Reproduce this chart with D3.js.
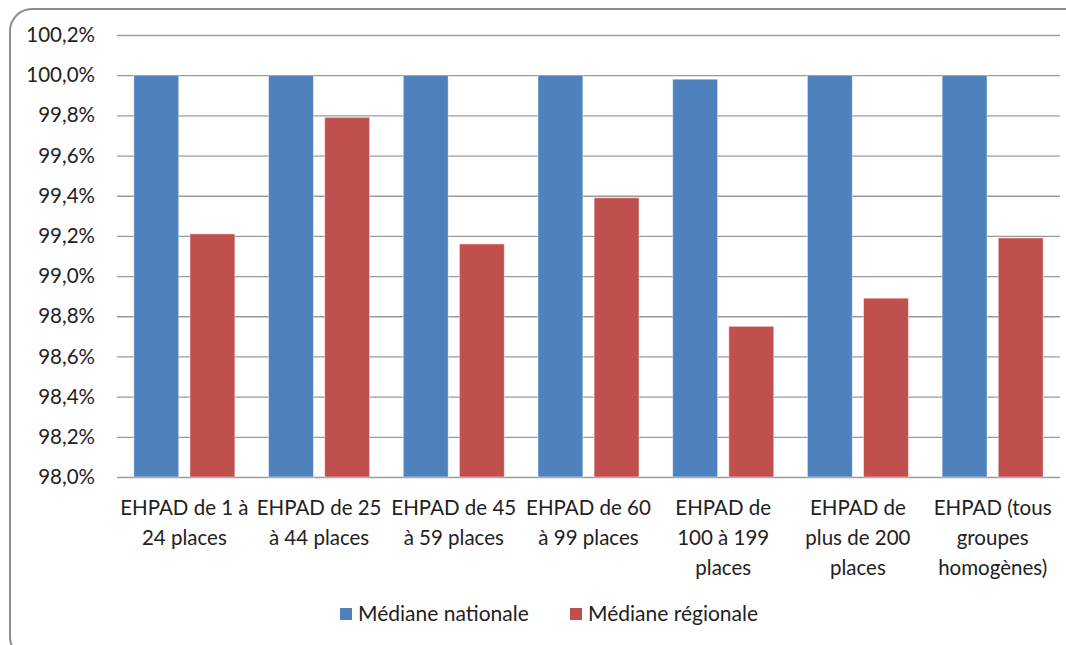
<!DOCTYPE html>
<html><head><meta charset="utf-8">
<script src="https://cdn.jsdelivr.net/npm/d3@7"></script>
<style>body{margin:0;background:#fff}svg{display:block}text{font-family:Lato,"Open Sans",sans-serif;fill:#222}</style>
</head><body><svg id="c" width="1066" height="645"></svg>
<script>
const categories = [
  ["EHPAD de 1 à","24 places"],
  ["EHPAD de 25","à 44 places"],
  ["EHPAD de 45","à 59 places"],
  ["EHPAD de 60","à 99 places"],
  ["EHPAD de","100 à 199","places"],
  ["EHPAD de","plus de 200","places"],
  ["EHPAD (tous","groupes","homogènes)"]
];
const seriesNames = ["Médiane nationale","Médiane régionale"];
const nationale = [100.0, 100.0, 100.0, 100.0, 99.98, 100.0, 100.0];
const regionale = [99.21, 99.79, 99.16, 99.39, 98.75, 98.89, 99.19];
const yTicks = [98.0, 98.2, 98.4, 98.6, 98.8, 99.0, 99.2, 99.4, 99.6, 99.8, 100.0, 100.2];
const colors = ["#4F81BD","#C0504D"];

const svg = d3.select("#c");
svg.append("rect").attr("x",10).attr("y",9).attr("width",1080).attr("height",650)
  .attr("rx",22).attr("fill","#fff").attr("stroke","#8c8c8c").attr("stroke-width",2);

const L=117, R=1060, T=35, B=477;
const y = d3.scaleLinear().domain([98.0,100.2]).range([B,T]);
const x0 = d3.scaleBand().domain(d3.range(categories.length)).range([L,R]).paddingInner(0.25).paddingOuter(0.125);
const x1 = d3.scaleBand().domain([0,1]).range([0,x0.bandwidth()]).paddingInner(0.2);

// gridlines
svg.append("g").attr("transform",`translate(${L},0)`)
  .call(d3.axisLeft(y).tickValues(yTicks).tickSize(-(R-L)).tickFormat(d=>d.toFixed(1).replace(".",",")+"%").tickPadding(22))
  .call(g=>{g.select(".domain").remove();
    g.selectAll(".tick line").attr("stroke","#9a9a9a").attr("stroke-width",1.3);
    g.selectAll(".tick text").style("font-size","20.5px").attr("fill","#222");});

const data = [nationale, regionale];
const gc = svg.append("g");
categories.forEach((c,i)=>{
  data.forEach((s,j)=>{
    gc.append("rect").attr("x",x0(i)+x1(j)).attr("width",x1.bandwidth())
      .attr("y",y(s[i])).attr("height",y(98.0)-y(s[i]))
      .attr("fill",colors[j]).attr("stroke","rgba(255,255,255,0.45)").attr("stroke-width",1);
  });
});

// x labels
const xl = svg.append("g");
categories.forEach((lines,i)=>{
  const cx = x0(i)+x0.bandwidth()/2;
  const t = xl.append("text").attr("x",cx).attr("y",515)
    .attr("text-anchor","middle").style("font-size","20.5px");
  lines.forEach((ln,k)=>t.append("tspan").attr("x",cx).attr("dy",k?30:0).text(ln));
});

// legend
const lg = svg.append("g");
const lx=[340,570];
seriesNames.forEach((n,j)=>{
  lg.append("rect").attr("x",lx[j]).attr("y",608).attr("width",12).attr("height",12).attr("fill",colors[j]);
  lg.append("text").attr("x",lx[j]+18).attr("y",621).style("font-size","21px").text(n);
});
</script></body></html>
